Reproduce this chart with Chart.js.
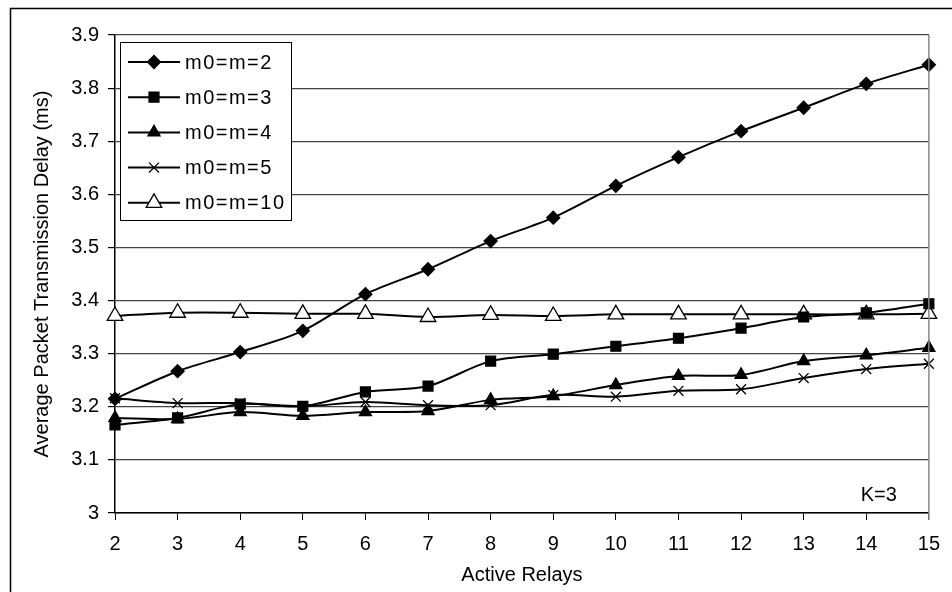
<!DOCTYPE html>
<html>
<head>
<meta charset="utf-8">
<script src="https://cdn.jsdelivr.net/npm/chart.js@4.4.1/dist/chart.umd.min.js"></script>
<style>
  html, body { margin: 0; padding: 0; background: #fff; }
  #wrap { width: 952px; height: 592px; position: relative; }
</style>
</head>
<body>
<div id="wrap"><canvas id="chart"></canvas></div>
<script>
// Data
const relays = ['2', '3', '4', '5', '6', '7', '8', '9', '10', '11', '12', '13', '14', '15'];
const m2  = [3.215, 3.267, 3.303, 3.343, 3.412, 3.459, 3.512, 3.556, 3.616, 3.670, 3.719, 3.763, 3.808, 3.844];
const m3  = [3.166, 3.179, 3.205, 3.201, 3.228, 3.239, 3.286, 3.299, 3.314, 3.329, 3.348, 3.369, 3.377, 3.394];
const m4  = [3.179, 3.177, 3.190, 3.183, 3.190, 3.192, 3.213, 3.220, 3.241, 3.258, 3.260, 3.286, 3.297, 3.311];
const m5  = [3.216, 3.207, 3.207, 3.201, 3.209, 3.203, 3.203, 3.222, 3.219, 3.230, 3.233, 3.254, 3.271, 3.281];
const m10 = [3.371, 3.377, 3.377, 3.375, 3.375, 3.369, 3.373, 3.371, 3.374, 3.374, 3.374, 3.374, 3.374, 3.375];
const yTicks = [3, 3.1, 3.2, 3.3, 3.4, 3.5, 3.6, 3.7, 3.8, 3.9];

const FONT = "'Liberation Sans', Arial, sans-serif";
const SIZE = 20;

function series(label, data, style, radius, fill) {
  return {
    label: label,
    data: data,
    borderColor: '#000',
    borderWidth: 2,
    tension: 0.3,
    pointStyle: style,
    pointRadius: radius,
    pointHoverRadius: radius,
    pointBackgroundColor: fill,
    pointBorderColor: '#000',
    pointBorderWidth: 1.3
  };
}

// frame, right border, legend box and K=3 note
const extras = {
  id: 'extras',
  beforeDraw(chart) {
    const ctx = chart.ctx;
    ctx.save();
    ctx.strokeStyle = '#000';
    ctx.lineWidth = 1.5;
    ctx.strokeRect(10.5, 8.5, 1200, 1200);
    ctx.restore();
  },
  afterDraw(chart) {
    const ctx = chart.ctx;
    const area = chart.chartArea;
    ctx.save();
    // right edge of plot
    ctx.strokeStyle = '#888';
    ctx.lineWidth = 1.5;
    ctx.beginPath();
    ctx.moveTo(area.right, area.top);
    ctx.lineTo(area.right, area.bottom + 7);
    ctx.stroke();

    // legend
    const bx = area.left + 5, by = area.top + 7, bw = 171, bh = 178;
    ctx.fillStyle = '#fff';
    ctx.fillRect(bx, by, bw, bh);
    ctx.strokeStyle = '#000';
    ctx.lineWidth = 1;
    ctx.strokeRect(bx + 0.5, by + 0.5, bw, bh);
    ctx.font = SIZE + 'px ' + FONT;
    ctx.textBaseline = 'middle';
    ctx.textAlign = 'left';
    if ('letterSpacing' in ctx) ctx.letterSpacing = '1.5px';
    chart.data.datasets.forEach((ds, i) => {
      const y = by + 20 + i * 35.2;
      ctx.strokeStyle = '#000';
      ctx.lineWidth = 2;
      ctx.beginPath();
      ctx.moveTo(bx + 8, y);
      ctx.lineTo(bx + 60, y);
      ctx.stroke();
      ctx.fillStyle = ds.pointBackgroundColor;
      ctx.lineWidth = ds.pointBorderWidth;
      Chart.helpers.drawPoint(ctx, { pointStyle: ds.pointStyle, radius: ds.pointRadius, rotation: 0, borderWidth: ds.pointBorderWidth }, bx + 34, y);
      ctx.fillStyle = '#000';
      ctx.fillText(ds.label, bx + 65, y + 1);
    });
    if ('letterSpacing' in ctx) ctx.letterSpacing = '0px';

    // annotation
    ctx.fillStyle = '#000';
    ctx.font = SIZE + 'px ' + FONT;
    ctx.textAlign = 'right';
    ctx.fillText('K=3', area.right - 32, area.bottom - 18);
    ctx.restore();
  }
};

new Chart(document.getElementById('chart'), {
  type: 'line',
  data: {
    labels: relays,
    datasets: [
      series('m0=m=2', m2, 'rectRot', 6.5, '#000'),
      series('m0=m=3', m3, 'rect', 7, '#000'),
      series('m0=m=4', m4, 'triangle', 7, '#000'),
      series('m0=m=5', m5, 'crossRot', 7, '#000'),
      series('m0=m=10', m10, 'triangle', 9, '#fff')
    ]
  },
  options: {
    responsive: true,
    maintainAspectRatio: false,
    animation: false,
    layout: { padding: { left: 0, top: 35, right: 18, bottom: 0 } },
    plugins: {
      legend: { display: false },
      tooltip: { enabled: false }
    },
    scales: {
      x: {
        type: 'category',
        offset: false,
        afterFit: (scale) => { scale.height = 79; },
        grid: { drawOnChartArea: false, drawTicks: true, tickLength: 7, tickColor: '#000' },
        border: { color: '#000', width: 1.5 },
        ticks: { color: '#000', padding: 12, maxRotation: 0, autoSkip: false, font: { family: FONT, size: SIZE } },
        title: { display: true, text: 'Active Relays', color: '#000', padding: { top: 0, bottom: 5 }, font: { family: FONT, size: SIZE } }
      },
      y: {
        min: 3,
        max: 3.9,
        afterFit: (scale) => { scale.width = 115; },
        afterBuildTicks: (scale) => { scale.ticks = yTicks.map(v => ({ value: v })); },
        grid: { color: '#444', lineWidth: 1.2, tickLength: 7, tickColor: '#000' },
        border: { color: '#000', width: 1.5 },
        ticks: {
          color: '#000',
          padding: 9,
          font: { family: FONT, size: SIZE },
          callback: (v) => String(Math.round(v * 10) / 10)
        },
        title: { display: true, text: 'Average Packet Transmission Delay (ms)', color: '#000', padding: { top: 30, bottom: 0 }, font: { family: FONT, size: SIZE } }
      }
    }
  },
  plugins: [extras]
});
</script>
</body>
</html>
